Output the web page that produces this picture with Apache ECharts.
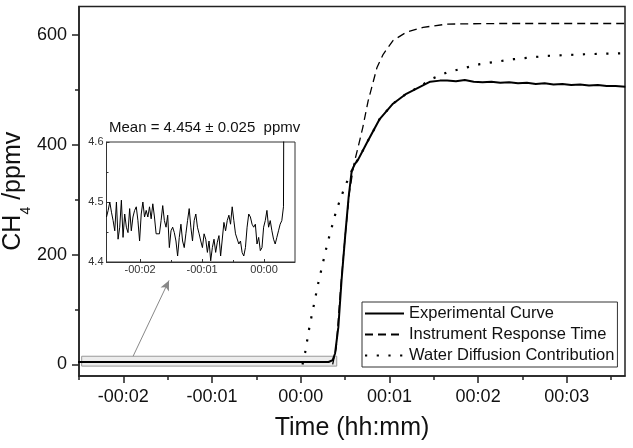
<!DOCTYPE html>
<html>
<head>
	<meta charset="utf-8" />
	<title>CH4 response</title>
	<style type="text/css">
	*{margin: 0;padding: 0;}
	body{background: #fff;}
	#chart{width: 633px;height: 448px;}
	</style>
</head>
<body>
<div id="chart"></div>
<script src="https://cdn.jsdelivr.net/npm/echarts@6/dist/echarts.min.js"></script>
<script type="text/javascript">
	// baseline before injection (ppmv), sampled evenly
	var flatStart = -2.543, flatStep = 0.0267;
	var flatValues = [4.475,4.486,4.500,4.483,4.469,4.452,4.500,4.438,4.458,4.503,
		4.441,4.480,4.458,4.449,4.489,4.452,4.475,4.486,4.492,4.469,
		4.435,4.480,4.500,4.475,4.486,4.475,4.492,4.472,4.497,4.475,
		4.447,4.447,4.447,4.469,4.494,4.469,4.458,4.478,4.424,4.452,
		4.458,4.449,4.435,4.410,4.441,4.463,4.435,4.424,4.447,4.469,
		4.489,4.458,4.435,4.469,4.480,4.458,4.447,4.435,4.424,4.447,
		4.438,4.416,4.435,4.402,4.424,4.438,4.416,4.433,4.444,4.410,
		4.413,4.466,4.452,4.469,4.478,4.463,4.492,4.469,4.447,4.444,
		4.430,4.435,4.416,4.410,4.424,4.458,4.480,4.475,4.463,4.458,
		4.463,4.430,4.441,4.419,4.424,4.458,4.469,4.486,4.458,4.469,
		4.452,4.438,4.430,4.441,4.452,4.463,4.469,4.492];

	// experimental curve after the step
	var riseTime  = [0.33, 0.36, 0.387, 0.424, 0.46, 0.50, 0.54, 0.575, 0.61, 0.65, 0.74, 0.89, 1.04, 1.19, 1.35, 1.46, 1.57,
		1.65, 1.75, 1.85, 1.95, 2.05, 2.15, 2.25, 2.35, 2.45, 2.55, 2.65, 2.75, 2.85, 2.95, 3.05, 3.15, 3.25, 3.35, 3.45, 3.55, 3.66];
	var riseValue = [5, 8, 20, 68, 153, 232, 305, 353, 365, 374, 402, 447, 475, 493, 506, 515, 517,
		517, 516, 518, 515, 514, 515, 513, 514, 512, 513, 511, 512, 510, 511, 509, 510, 508, 509, 507, 507, 506];

	// instrument response time
	var respTime  = [0.36, 0.40, 0.45, 0.50, 0.55, 0.60, 0.65, 0.70, 0.76, 0.86, 0.93, 1.04, 1.19, 1.38, 1.65, 2.2, 3.66];
	var respValue = [0, 30, 140, 232, 315, 365, 398, 432, 480, 541, 565, 590, 605, 614, 620, 621, 621];

	// water diffusion contribution
	var diffTime  = [0.02, 0.05, 0.10, 0.15, 0.20, 0.30, 0.40, 0.50, 0.61, 0.65, 0.74, 0.89, 1.04, 1.19, 1.35, 1.46, 1.65, 2.02, 2.4, 2.77, 3.2, 3.66];
	var diffValue = [0, 22, 70, 110, 150, 220, 280, 325, 365, 374, 402, 447, 475, 493, 507, 519, 532, 547, 556, 562, 565, 567];

	var xTicks = [-2, -1, 0, 1, 2, 3];
	var xMinor = [-2.5, -1.5, -0.5, 0.5, 1.5, 2.5, 3.5];
	var yTicks = [0, 200, 400, 600];
	var yMinor = [100, 300, 500];
	var insetXTicks = [-2, -1, 0];
	var insetXMinor = [-1.5, -0.5];
	var insetYTicks = [4.4, 4.5, 4.6];
	var insetYMinor = [4.45, 4.55];

	var font = "'Liberation Sans', Arial, sans-serif";
	var names = ['Experimental Curve', 'Instrument Response Time', 'Water Diffusion Contribution'];

	function pairs(t, v) {
		var out = [];
		for (var i = 0; i < t.length; i++) out.push([t[i], v[i]]);
		return out;
	}
	var flatData = [];
	for (var i = 0; i < flatValues.length; i++) {
		flatData.push([flatStart + i * flatStep, flatValues[i]]);
	}
	var expData = flatData.concat(pairs(riseTime, riseValue));

	function hhmm(v) {
		var a = Math.abs(Math.round(v));
		return (v < 0 ? '-' : '') + '00:0' + a;
	}

	var frame = {onZero: false, lineStyle: {color: '#222', width: 1.5}};
	var noLine = {show: false, onZero: false};

	var option = {
		animation: false,
		backgroundColor: '#fff',
		color: ['#000', '#000', '#000', '#000'],
		textStyle: {fontFamily: font},
		title: {
			text: 'Mean = 4.454 \u00b1 0.025  ppmv',
			left: 109, top: 120, padding: 0,
			textStyle: {fontSize: 15, fontWeight: 'normal', color: '#111', fontFamily: font}
		},
		legend: {
			data: names,
			orient: 'vertical',
			left: 362, top: 302,
			padding: [3, 3, 3, 2],
			itemGap: 4, itemWidth: 39, itemHeight: 15,
			borderColor: '#333', borderWidth: 1,
			backgroundColor: '#fff',
			itemStyle: {opacity: 0},
			textStyle: {fontSize: 16.5, color: '#111', fontFamily: font}
		},
		grid: [
			{left: 79, right: 8, top: 6.5, bottom: 72, outerBoundsMode: 'none',
				show: true, borderColor: '#222', borderWidth: 1.5},
			{left: 106.5, top: 142, width: 188.5, height: 120, outerBoundsMode: 'none',
				show: true, borderColor: '#333', borderWidth: 1, backgroundColor: '#fff', z: 5}
		],
		xAxis: [
			{type: 'value', gridIndex: 0, min: -2.5, max: 3.656, splitLine: {show: false},
				axisLine: frame,
				axisTick: {customValues: xTicks, length: 7, lineStyle: {color: '#222', width: 1.5}},
				axisLabel: {customValues: xTicks, formatter: hhmm, fontSize: 18, margin: 12, color: '#111', fontFamily: font},
				name: 'Time (hh:mm)', nameLocation: 'middle', nameGap: 40,
				nameTextStyle: {fontSize: 25, color: '#111', fontFamily: font}},
			{type: 'value', gridIndex: 0, position: 'bottom', min: -2.5, max: 3.656, splitLine: {show: false},
				axisLine: noLine,
				axisTick: {customValues: xMinor, length: 4, lineStyle: {color: '#222', width: 1.5}},
				axisLabel: {show: false}},
			{type: 'value', gridIndex: 1, min: -2.543, max: 0.5, splitLine: {show: false}, z: 6,
				axisLine: {onZero: false, lineStyle: {color: '#333', width: 1}},
				axisTick: {customValues: insetXTicks, inside: true, length: 3, lineStyle: {color: '#333'}},
				axisLabel: {customValues: insetXTicks, formatter: hhmm, fontSize: 11, margin: 2, color: '#333', fontFamily: font}},
			{type: 'value', gridIndex: 1, position: 'bottom', min: -2.543, max: 0.5, splitLine: {show: false}, z: 6,
				axisLine: noLine,
				axisTick: {customValues: insetXMinor, inside: true, length: 2, lineStyle: {color: '#333'}},
				axisLabel: {show: false}}
		],
		yAxis: [
			{type: 'value', gridIndex: 0, min: -21, max: 652, splitLine: {show: false},
				axisLine: frame,
				axisTick: {customValues: yTicks, length: 7, lineStyle: {color: '#222', width: 1.5}},
				axisLabel: {customValues: yTicks, fontSize: 18, margin: 12, color: '#111', fontFamily: font},
				name: '{a|CH}{s|4}{a| /ppmv}', nameLocation: 'middle', nameRotate: 90, nameGap: 46,
				nameMoveOverlap: false,
				nameTextStyle: {
					rich: {
						a: {fontSize: 25, lineHeight: 40, color: '#111', fontFamily: font},
						s: {fontSize: 14, lineHeight: 14, verticalAlign: 'bottom', color: '#111', fontFamily: font}
					}
				}},
			{type: 'value', gridIndex: 0, position: 'left', min: -21, max: 652, splitLine: {show: false},
				axisLine: noLine,
				axisTick: {customValues: yMinor, length: 4, lineStyle: {color: '#222', width: 1.5}},
				axisLabel: {show: false}},
			{type: 'value', gridIndex: 1, min: 4.4, max: 4.6, splitLine: {show: false}, z: 6,
				axisLine: {onZero: false, lineStyle: {color: '#333', width: 1}},
				axisTick: {customValues: insetYTicks, inside: true, length: 3, lineStyle: {color: '#333'}},
				axisLabel: {customValues: insetYTicks, formatter: function (v) { return v.toFixed(1); },
					fontSize: 11, margin: 3, color: '#333', fontFamily: font}},
			{type: 'value', gridIndex: 1, position: 'left', min: 4.4, max: 4.6, splitLine: {show: false}, z: 6,
				axisLine: noLine,
				axisTick: {customValues: insetYMinor, inside: true, length: 2, lineStyle: {color: '#333'}},
				axisLabel: {show: false}}
		],
		series: [
			{
				name: names[0], type: 'line', xAxisIndex: 0, yAxisIndex: 0,
				data: expData, symbol: 'none', z: 4,
				lineStyle: {color: '#000', width: 2},
				markArea: {
					silent: true,
					itemStyle: {color: 'rgba(200,200,200,0.35)', borderColor: '#999', borderWidth: 1},
					data: [[{coord: [-2.47, 15]}, {coord: [0.406, -3]}]]
				},
				markLine: {
					silent: true,
					symbol: ['none', 'arrow'], symbolSize: [7, 10],
					label: {show: false},
					lineStyle: {color: '#888', width: 1, type: 'solid'},
					data: [[{coord: [-1.89, 15]}, {coord: [-1.485, 153]}]]
				}
			},
			{
				name: names[1], type: 'line', xAxisIndex: 0, yAxisIndex: 0,
				data: pairs(respTime, respValue), symbol: 'none', z: 3,
				lineStyle: {color: '#000', width: 1.3, type: [8, 5]}
			},
			{
				name: names[2], type: 'line', xAxisIndex: 0, yAxisIndex: 0,
				data: pairs(diffTime, diffValue), symbol: 'none', z: 3,
				lineStyle: {color: '#000', width: 2.2, type: [2.2, 9.5]}
			},
			{
				name: 'inset', type: 'line', xAxisIndex: 2, yAxisIndex: 2,
				data: expData.slice(0, flatValues.length + 3), symbol: 'none', z: 7,
				lineStyle: {color: '#000', width: 1}
			}
		]
	};

	var chart = echarts.init(document.getElementById('chart'));
	chart.setOption(option);
</script>
</body>
</html>
